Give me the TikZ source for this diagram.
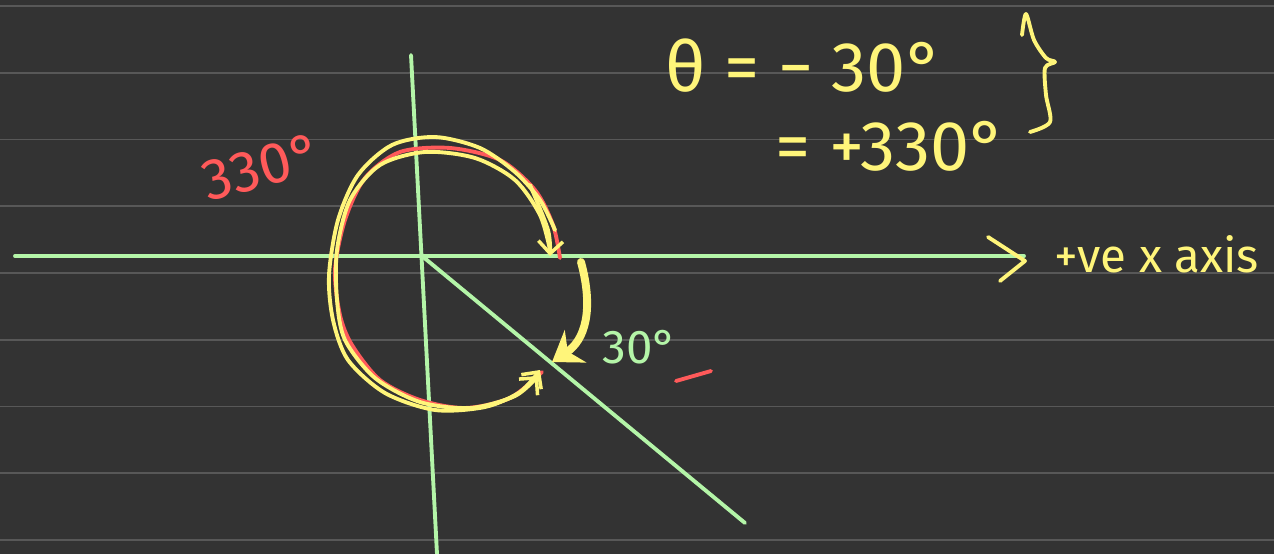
\documentclass[tikz,border=0pt]{standalone}
\usepackage{fontspec}
\setmainfont{Fira Sans}
\usetikzlibrary{arrows.meta,positioning,calc}
\definecolor{board}{HTML}{333333}
\definecolor{ruling}{HTML}{585858}
\definecolor{axisgreen}{HTML}{B4F5A8}
\definecolor{pen}{HTML}{FFF57A}
\definecolor{ink}{HTML}{FF5A5A}

\begin{document}
\begin{tikzpicture}[x=0.02cm, y=-0.02cm,
  axisline/.style={draw=axisgreen, line width=2.2pt, line cap=round},
  penline/.style={draw=pen, line width=2.2pt, line cap=round, line join=round},
  inkline/.style={draw=ink, line width=2.2pt, line cap=round, line join=round},
  barb/.style={-{Straight Barb[length=7pt,width=14pt,line width=2pt]}},
  note/.style={text=pen, inner sep=0pt, font=\fontsize{27}{30}\selectfont}]
  % board and ruled lines
  \useasboundingbox[fill=board] (0,0) rectangle (1274,554);
  \foreach \i in {0,...,8}
    \draw[ruling, line width=1.1pt] (0,6+66.75*\i) -- (1274,6+66.75*\i);

  % axes
  \coordinate (O) at (422,256);
  \coordinate (xleft) at (15,256);
  \coordinate (xright) at (1024,256);
  \coordinate (ytop) at (411,55);
  \coordinate (ybot) at (437,554);
  \coordinate (ray) at (745,523);
  \draw[axisline] (xleft) -- (xright);
  \draw[axisline] (ytop) -- (ybot);
  \draw[axisline] (O) -- (ray);
  \draw[penline] (988,237) -- (1025,261) -- (1000,281);
  \node[note, anchor=west] (xlabel) at (1054,254) {+ve x axis};

  % the 330 degree turn
  \draw[inkline] plot[smooth] coordinates {(560,258) (553,225) (535,190) (500,160) (450,148)
    (400,152) (365,178) (345,220) (335,270) (340,315) (352,345) (380,380) (420,400) (465,408)
    (510,398) (542,372)};
  \draw[penline, barb] plot[smooth] coordinates {(555,230) (540,200) (515,172) (480,148)
    (435,137) (392,145) (358,175) (338,220) (329,275) (333,320) (348,360) (385,393) (435,410)
    (485,407) (520,392) (540,370)};
  \draw[penline, barb] plot[smooth] coordinates {(550,250) (540,215) (515,180) (475,158)
    (425,152) (380,165) (350,200) (337,250) (337,300) (345,340) (375,378) (420,402) (470,408)
    (515,396) (538,376)};
  \draw[penline, barb] plot[smooth] coordinates {(530,185) (548,230) (550,256)};
  \node[text=ink, inner sep=0pt, rotate=15, font=\fontsize{33}{36}\selectfont] (big) at (262,167) {330°};

  % the 30 degree turn
  \draw[penline, line width=4.5pt, -{Stealth[length=16pt,width=22pt]}]
    (581,262) .. controls (594,310) and (585,340) .. (552,362);
  \node[text=axisgreen, inner sep=0pt, font=\fontsize{27}{30}\selectfont] (small) at (640,347) {30°};
  \draw[inkline] (676,381) -- (711,371);

  % theta
  \node[note, anchor=west, font=\fontsize{40}{44}\selectfont] (theta) at (665,66) {θ = − 30°};
  \node[note, anchor=west, font=\fontsize{40}{44}\selectfont] (plus) at (775,146) {= +330°};
  \draw[penline] plot[smooth] coordinates {(1022,35) (1026,14) (1034,40) (1046,58) (1055,62)
    (1045,68) (1046,95) (1050,122) (1030,132)};
\end{tikzpicture}
\end{document}
